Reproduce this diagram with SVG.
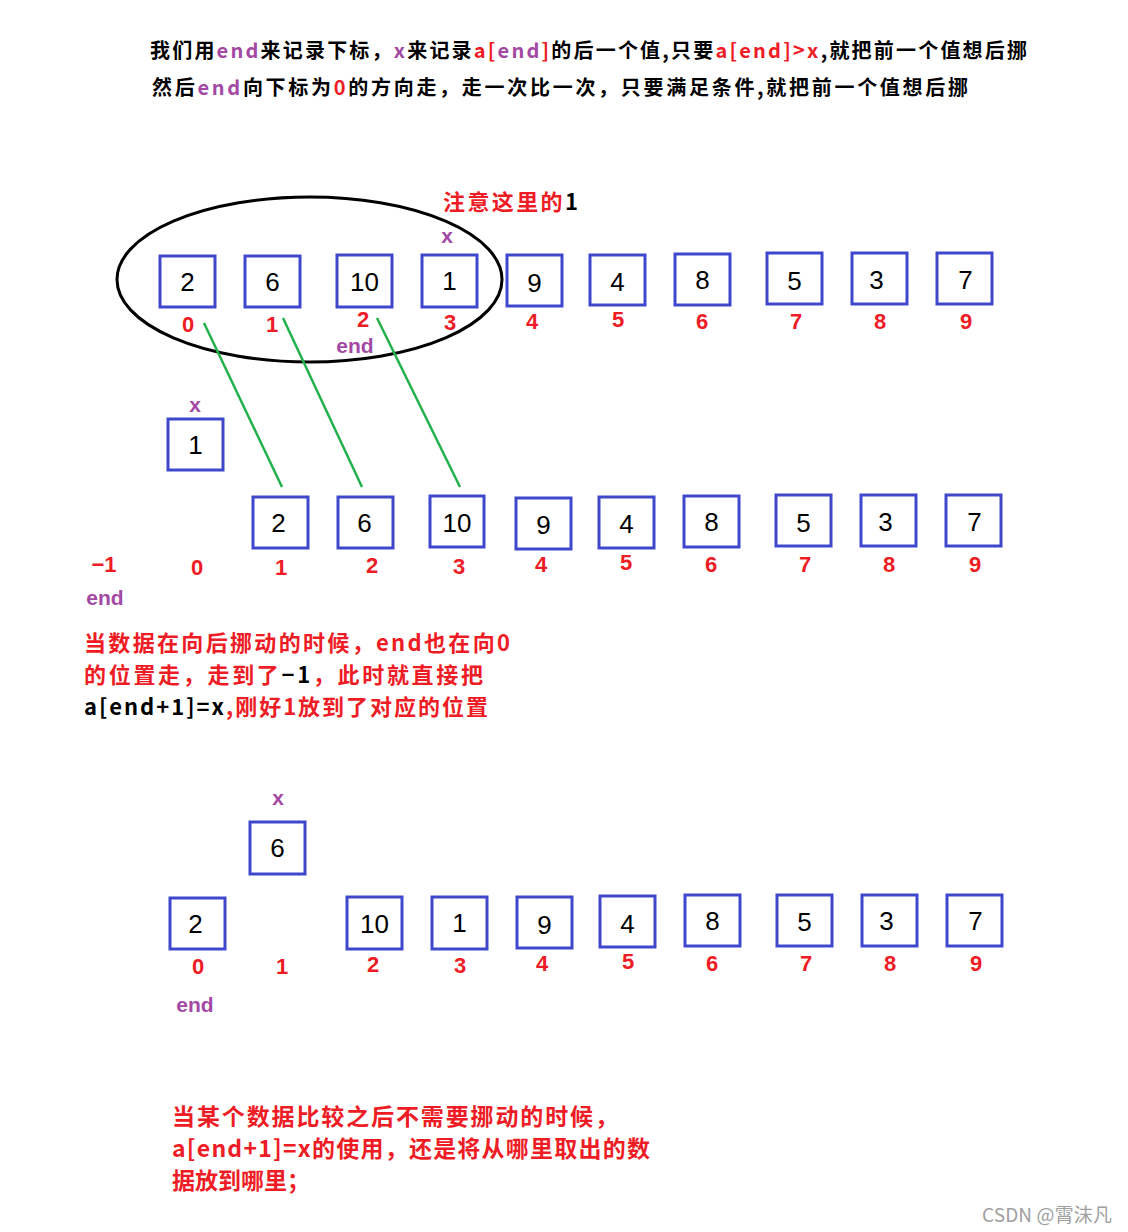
<svg xmlns="http://www.w3.org/2000/svg" width="1128" height="1232" viewBox="0 0 1128 1232">
<style>
.bx{fill:#fff;stroke:#3f48cc;stroke-width:3}
.bv{font-family:"Liberation Sans",Arial,sans-serif;font-size:26px;fill:#000;text-anchor:middle;dominant-baseline:central}
.ix{font-family:"Liberation Sans",Arial,sans-serif;font-size:22px;font-weight:bold;fill:#ee1c25;text-anchor:middle;dominant-baseline:central}
.pu{font-family:"Liberation Sans",Arial,sans-serif;font-size:21px;font-weight:bold;fill:#a349a4;text-anchor:middle;dominant-baseline:central}
.cn{font-family:"Noto Sans CJK SC","Noto Sans",sans-serif;font-weight:bold;dominant-baseline:central}
.blk{fill:#000}
.red{fill:#ee1c25}
.pur{fill:#a349a4}
.gl{stroke:#22b14c;stroke-width:2.5;fill:none}
</style>
<rect width="1128" height="1232" fill="#fff"/>

<g id="header">
<text class="cn" x="150" y="49" font-size="20" textLength="877" lengthAdjust="spacing"><tspan class="blk">我们用</tspan><tspan class="pur">end</tspan><tspan class="blk">来记录下标，</tspan><tspan class="pur">x</tspan><tspan class="blk">来记录</tspan><tspan class="red">a[</tspan><tspan class="pur">end</tspan><tspan class="red">]</tspan><tspan class="blk">的后一个值,只要</tspan><tspan class="red">a[end]&gt;x</tspan><tspan class="blk">,就把前一个值想后挪</tspan></text>
<text class="cn" x="152" y="86" font-size="20" textLength="816" lengthAdjust="spacing"><tspan class="blk">然后</tspan><tspan class="pur">end</tspan><tspan class="blk">向下标为</tspan><tspan class="red">0</tspan><tspan class="blk">的方向走，走一次比一次，只要满足条件,就把前一个值想后挪</tspan></text>
</g>

<g id="stage1">
<ellipse cx="309.5" cy="279.5" rx="192.5" ry="82.5" fill="none" stroke="#000" stroke-width="3"/>
<text class="cn" x="443" y="200" font-size="22" textLength="135" lengthAdjust="spacing"><tspan class="red">注意这里的</tspan><tspan class="blk">1</tspan></text>
<text class="pu" x="447" y="235">x</text>
<text class="pu" x="355" y="345">end</text>
<g id="s1-n0"><rect class="bx" x="160" y="256" width="55" height="51"/><text class="bv" x="187.5" y="282">2</text><text class="ix" x="188" y="324">0</text></g>
<g id="s1-n1"><rect class="bx" x="245" y="256" width="55" height="51"/><text class="bv" x="272.5" y="282">6</text><text class="ix" x="272" y="324">1</text></g>
<g id="s1-n2"><rect class="bx" x="337" y="255" width="55" height="52"/><text class="bv" x="364.5" y="282">10</text><text class="ix" x="363" y="319">2</text></g>
<g id="s1-n3"><rect class="bx" x="422" y="255" width="55" height="52"/><text class="bv" x="449.5" y="281">1</text><text class="ix" x="450" y="322">3</text></g>
<g id="s1-n4"><rect class="bx" x="507" y="255" width="55" height="51"/><text class="bv" x="534.5" y="283">9</text><text class="ix" x="532" y="321">4</text></g>
<g id="s1-n5"><rect class="bx" x="590" y="255" width="55" height="50"/><text class="bv" x="617.5" y="282">4</text><text class="ix" x="618" y="319">5</text></g>
<g id="s1-n6"><rect class="bx" x="675" y="254" width="55" height="51"/><text class="bv" x="702.5" y="280">8</text><text class="ix" x="702" y="321">6</text></g>
<g id="s1-n7"><rect class="bx" x="767" y="253" width="55" height="51"/><text class="bv" x="794.5" y="281">5</text><text class="ix" x="796" y="321">7</text></g>
<g id="s1-n8"><rect class="bx" x="852" y="253" width="55" height="51"/><text class="bv" x="876.5" y="280">3</text><text class="ix" x="880" y="321">8</text></g>
<g id="s1-n9"><rect class="bx" x="937" y="253" width="55" height="51"/><text class="bv" x="965.5" y="280">7</text><text class="ix" x="966" y="321">9</text></g>
</g>

<g id="connectors">
<line class="gl" x1="204" y1="323" x2="282" y2="487"/>
<line class="gl" x1="283" y1="318" x2="362" y2="487"/>
<line class="gl" x1="377" y1="318" x2="460" y2="487"/>
</g>

<g id="stage2">
<text class="pu" x="195" y="404">x</text>
<g id="s2-x"><rect class="bx" x="168" y="419" width="55" height="51"/><text class="bv" x="195.5" y="445">1</text></g>
<text class="ix" x="104" y="564">−1</text>
<text class="ix" x="197" y="567">0</text>
<text class="pu" x="105" y="597">end</text>
<g id="s2-n1"><rect class="bx" x="253" y="497" width="55" height="51"/><text class="bv" x="278.5" y="523">2</text><text class="ix" x="281" y="567">1</text></g>
<g id="s2-n2"><rect class="bx" x="338" y="497" width="55" height="51"/><text class="bv" x="364.5" y="523">6</text><text class="ix" x="372" y="565">2</text></g>
<g id="s2-n3"><rect class="bx" x="430" y="496" width="54" height="51"/><text class="bv" x="457" y="523">10</text><text class="ix" x="459" y="566">3</text></g>
<g id="s2-n4"><rect class="bx" x="516" y="498" width="55" height="51"/><text class="bv" x="543.5" y="525">9</text><text class="ix" x="541" y="564">4</text></g>
<g id="s2-n5"><rect class="bx" x="599" y="497" width="55" height="51"/><text class="bv" x="626.5" y="524">4</text><text class="ix" x="626" y="562">5</text></g>
<g id="s2-n6"><rect class="bx" x="684" y="496" width="55" height="51"/><text class="bv" x="711.5" y="522">8</text><text class="ix" x="711" y="564">6</text></g>
<g id="s2-n7"><rect class="bx" x="776" y="495" width="55" height="51"/><text class="bv" x="803.5" y="523">5</text><text class="ix" x="805" y="564">7</text></g>
<g id="s2-n8"><rect class="bx" x="861" y="495" width="55" height="51"/><text class="bv" x="885.5" y="522">3</text><text class="ix" x="889" y="564">8</text></g>
<g id="s2-n9"><rect class="bx" x="946" y="495" width="55" height="51"/><text class="bv" x="974.5" y="522">7</text><text class="ix" x="975" y="564">9</text></g>
<text class="cn" x="84" y="641" font-size="22" textLength="426" lengthAdjust="spacing"><tspan class="red">当数据在向后挪动的时候，end也在向0</tspan></text>
<text class="cn" x="84" y="673" font-size="22" textLength="399" lengthAdjust="spacing"><tspan class="red">的位置走，走到了</tspan><tspan class="blk">−1</tspan><tspan class="red">，此时就直接把</tspan></text>
<text class="cn" x="84" y="705" font-size="22" textLength="404" lengthAdjust="spacing"><tspan class="blk">a[end+1]=x</tspan><tspan class="red">,刚好1放到了对应的位置</tspan></text>
</g>

<g id="stage3">
<text class="pu" x="278" y="797">x</text>
<g id="s3-x"><rect class="bx" x="250" y="822" width="55" height="52"/><text class="bv" x="277.5" y="848">6</text></g>
<g id="s3-n0"><rect class="bx" x="170" y="898" width="55" height="51"/><text class="bv" x="195.5" y="924">2</text><text class="ix" x="198" y="966">0</text></g>
<text class="ix" x="282" y="966">1</text>
<text class="pu" x="195" y="1004">end</text>
<g id="s3-n2"><rect class="bx" x="347" y="897" width="55" height="52"/><text class="bv" x="374.5" y="924">10</text><text class="ix" x="373" y="964">2</text></g>
<g id="s3-n3"><rect class="bx" x="432" y="897" width="55" height="52"/><text class="bv" x="459.5" y="923">1</text><text class="ix" x="460" y="965">3</text></g>
<g id="s3-n4"><rect class="bx" x="517" y="897" width="55" height="51"/><text class="bv" x="544.5" y="925">9</text><text class="ix" x="542" y="963">4</text></g>
<g id="s3-n5"><rect class="bx" x="600" y="896" width="55" height="51"/><text class="bv" x="627.5" y="924">4</text><text class="ix" x="628" y="961">5</text></g>
<g id="s3-n6"><rect class="bx" x="685" y="895" width="55" height="51"/><text class="bv" x="712.5" y="921">8</text><text class="ix" x="712" y="963">6</text></g>
<g id="s3-n7"><rect class="bx" x="777" y="895" width="55" height="51"/><text class="bv" x="804.5" y="922">5</text><text class="ix" x="806" y="963">7</text></g>
<g id="s3-n8"><rect class="bx" x="862" y="895" width="55" height="51"/><text class="bv" x="886.5" y="921">3</text><text class="ix" x="890" y="963">8</text></g>
<g id="s3-n9"><rect class="bx" x="947" y="895" width="55" height="51"/><text class="bv" x="975.5" y="921">7</text><text class="ix" x="976" y="963">9</text></g>
<text class="cn red" x="172" y="1115" font-size="23" textLength="446" lengthAdjust="spacing">当某个数据比较之后不需要挪动的时候，</text>
<text class="cn red" x="172" y="1147" font-size="23" textLength="478" lengthAdjust="spacing">a[end+1]=x的使用，还是将从哪里取出的数</text>
<text class="cn red" x="172" y="1179" font-size="23">据放到哪里；</text>
</g>

<text x="982" y="1213" font-family="'Noto Sans CJK SC','Noto Sans',sans-serif" font-size="19" fill="#a0a0a0" dominant-baseline="central" textLength="130" lengthAdjust="spacing">CSDN @霄沫凡</text>
</svg>
